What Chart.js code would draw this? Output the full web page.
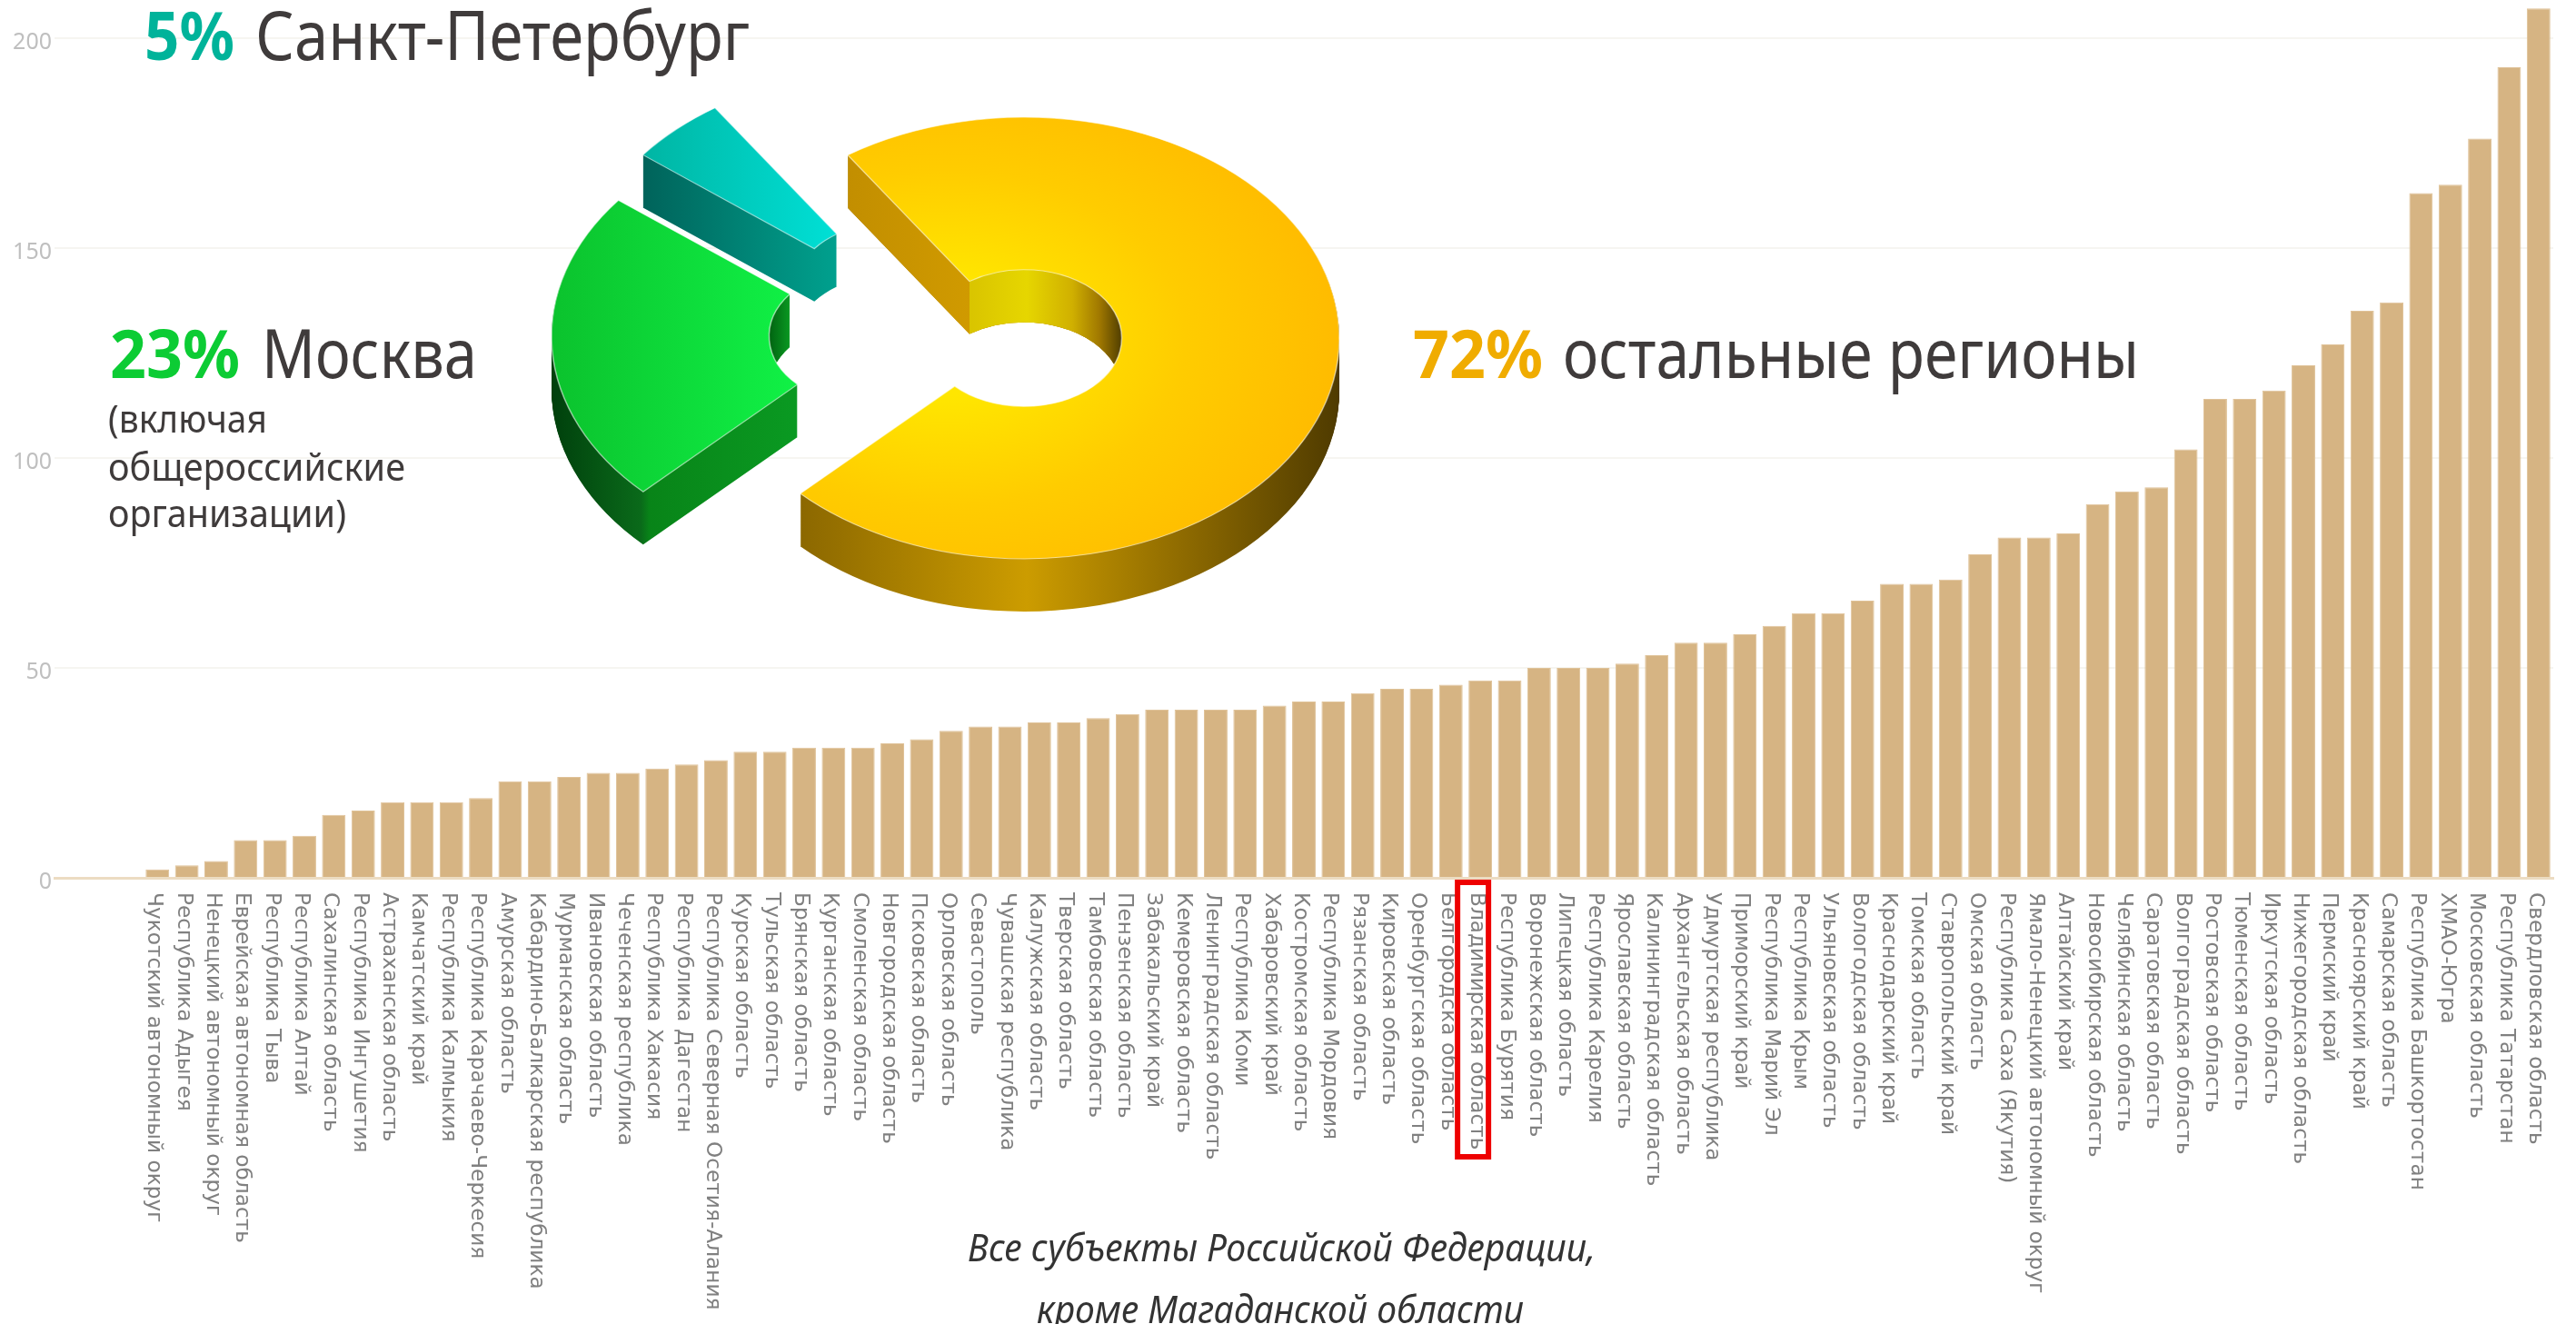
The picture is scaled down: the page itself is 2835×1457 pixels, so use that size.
<!DOCTYPE html>
<html>
<head>
<meta charset="utf-8">
<title>Субъекты РФ</title>
<script src="https://cdn.jsdelivr.net/npm/chart.js@4"></script>
<style>
  html, body { margin: 0; padding: 0; background: #fff; }
  #page { position: relative; width: 2835px; height: 1457px; overflow: hidden; }
  #barCanvas { position: absolute; left: 0; top: 0; }
  #pieCanvas { position: absolute; left: 590px; top: 62px; }
</style>
</head>
<body>
<div id="page">
  <canvas id="barCanvas" width="2835" height="1457"></canvas>
  <canvas id="pieCanvas" width="1074" height="620"></canvas>
</div>
<script>
var blankSlots = ['', '', ''];
var blankValues = [0, 0, 0];

var regions = [
  'Чукотский автономный округ', 'Республика Адыгея', 'Ненецкий автономный округ',
  'Еврейская автономная область', 'Республика Тыва', 'Республика Алтай',
  'Сахалинская область', 'Республика Ингушетия', 'Астраханская область',
  'Камчатский край', 'Республика Калмыкия', 'Республика Карачаево-Черкесия',
  'Амурская область', 'Кабардино-Балкарская республика', 'Мурманская область',
  'Ивановская область', 'Чеченская республика', 'Республика Хакасия',
  'Республика Дагестан', 'Республика Северная Осетия-Алания', 'Курская область',
  'Тульская область', 'Брянская область', 'Курганская область',
  'Смоленская область', 'Новгородская область', 'Псковская область',
  'Орловская область', 'Севастополь', 'Чувашская республика',
  'Калужская область', 'Тверская область', 'Тамбовская область',
  'Пензенская область', 'Забакальский край', 'Кемеровская область',
  'Ленинградская область', 'Республика Коми', 'Хабаровский край',
  'Костромская область', 'Республика Мордовия', 'Рязанская область',
  'Кировская область', 'Оренбургская область', 'Белгородска область',
  'Владимирская область', 'Республика Бурятия', 'Воронежская область',
  'Липецкая область', 'Республика Карелия', 'Ярославская область',
  'Калининградская область', 'Архангельская область', 'Удмуртская республика',
  'Приморский край', 'Республика Марий Эл', 'Республика Крым',
  'Ульяновская область', 'Вологодская область', 'Краснодарский край',
  'Томская область', 'Ставропольский край', 'Омская область',
  'Республика Саха (Якутия)', 'Ямало-Ненецкий автономный округ', 'Алтайский край',
  'Новосибирская область', 'Челябинская область', 'Саратовская область',
  'Волгоградская область', 'Ростовская область', 'Тюменская область',
  'Иркутская область', 'Нижегородская область', 'Пермский край',
  'Красноярский край', 'Самарская область', 'Республика Башкортостан',
  'ХМАО-Югра', 'Московская область', 'Республика Татарстан', 'Свердловская область'
];

var regionValues = [
  2, 3, 4, 9, 9, 10, 15, 16, 18, 18, 18, 19, 23, 23, 24, 25, 25, 26, 27, 28,
  30, 30, 31, 31, 31, 32, 33, 35, 36, 36, 37, 37, 38, 39, 40, 40, 40, 40, 41,
  42, 42, 44, 45, 45, 46, 47, 47, 50, 50, 50, 51, 53, 56, 56, 58, 60, 63, 63,
  66, 70, 70, 71, 77, 81, 81, 82, 89, 92, 93, 102, 114, 114, 116, 122, 127,
  135, 137, 163, 165, 176, 193, 207
];

var highlightRegion = 'Владимирская область';

var shareNames = ['остальные регионы', 'Москва', 'Санкт-Петербург'];
var shareValues = [72, 23, 5];

var captionLines = ['Все субъекты Российской Федерации,', 'кроме Магаданской области'];
var moscowNote = ['(включая', 'общероссийские', 'организации)'];

var textDark = '#3f3b3b';
var baseFont = '"Noto Sans", sans-serif';

// every text piece: x and width come from the picture, width is forced with a horizontal scale
var notes = [
  { text: shareValues[2] + '%', x: 159, y: 66, w: 99, size: 74, weight: 'bold', color: '#00b39a' },
  { text: shareNames[2], x: 281, y: 66, w: 544, size: 74, color: textDark },
  { text: shareValues[1] + '%', x: 121, y: 416, w: 143, size: 74, weight: 'bold', color: '#0ccc34' },
  { text: shareNames[1], x: 288, y: 416, w: 237, size: 74, color: textDark },
  { text: moscowNote[0], x: 119, y: 476, w: 175, size: 42, color: textDark },
  { text: moscowNote[1], x: 119, y: 529, w: 327, size: 42, color: textDark },
  { text: moscowNote[2], x: 119, y: 580, w: 262, size: 42, color: textDark },
  { text: shareValues[0] + '%', x: 1555, y: 416, w: 143, size: 74, weight: 'bold', color: '#f0ac00' },
  { text: shareNames[0], x: 1720, y: 416, w: 634, size: 74, color: textDark },
  { text: captionLines[0], x: 1065, y: 1388, w: 691, size: 42, italic: true, color: '#333333' },
  { text: captionLines[1], x: 1141, y: 1456, w: 536, size: 42, italic: true, color: '#333333' }
];

function drawFitted(ctx, n) {
  ctx.save();
  ctx.font = (n.italic ? 'italic ' : '') + (n.weight || 'normal') + ' ' + n.size + 'px ' + baseFont;
  ctx.fillStyle = n.color;
  ctx.textAlign = 'left';
  ctx.textBaseline = 'alphabetic';
  var measured = ctx.measureText(n.text).width;
  ctx.translate(n.x, n.y);
  ctx.scale(n.w / measured, 1);
  ctx.fillText(n.text, 0, 0);
  ctx.restore();
}

var regionTicks = {
  id: 'regionTicks',
  afterDatasetsDraw: function (chart) {
    var ctx = chart.ctx;
    var x = chart.scales.x;
    var labels = chart.data.labels;
    ctx.save();
    ctx.fillStyle = '#808080';
    ctx.font = '23px "DejaVu Sans", sans-serif';
    ctx.textAlign = 'left';
    ctx.textBaseline = 'middle';
    labels.forEach(function (label, i) {
      if (!label) return;
      var px = x.getPixelForTick(i) - 4;
      ctx.save();
      ctx.translate(px, 982);
      ctx.rotate(Math.PI / 2);
      ctx.scale(1.01, 1);
      ctx.fillText(label, 0, 0);
      ctx.restore();
      if (label === highlightRegion) {
        ctx.strokeStyle = '#ee0000';
        ctx.lineWidth = 6;
        ctx.strokeRect(px - 21, 971, 34, 302);
      }
    });
    ctx.restore();
  },
  afterDraw: function (chart) {
    notes.forEach(function (n) { drawFitted(chart.ctx, n); });
  }
};

new Chart(document.getElementById('barCanvas'), {
  type: 'bar',
  data: {
    labels: blankSlots.concat(regions),
    datasets: [{
      data: blankValues.concat(regionValues),
      backgroundColor: '#d6b483',
      borderColor: '#dfc298',
      borderWidth: 1,
      barPercentage: 0.8,
      categoryPercentage: 1
    }]
  },
  options: {
    responsive: false,
    animation: false,
    layout: { padding: { left: 0, right: 25, top: 0, bottom: 491 } },
    plugins: { legend: { display: false }, tooltip: { enabled: false } },
    scales: {
      x: {
        afterFit: function (axis) {
          axis.height = 0;
          axis.paddingLeft = 0;
          axis.paddingRight = 0;
        },
        grid: { display: false },
        border: { color: '#ecdcc2', width: 3 },
        ticks: { display: false, autoSkip: false }
      },
      y: {
        min: 0,
        max: 209,
        afterFit: function (axis) {
          axis.width = 60;
          axis.paddingTop = 0;
          axis.paddingBottom = 0;
        },
        grid: { color: '#f6f5f1', lineWidth: 2, drawTicks: false },
        border: { display: false },
        ticks: {
          stepSize: 50,
          includeBounds: false,
          padding: 3,
          labelOffset: 5,
          color: '#bfbfbf',
          font: { family: baseFont, size: 25 }
        }
      }
    }
  },
  plugins: [regionTicks]
});

// 3D look for the doughnut: squash it and stack the library's arcs downwards
var pieLeft = 590;
var pieMidY = 310;
var pieTilt = 0.7;
var pieDepth = 58;
var sliceShiftX = [0, -173, -146];
var sliceShiftY = [0, -2, -52];
var sliceOrder = [0, 2, 1];

var sliceTop = [
  { radial: [1040, 90, 440], stops: [[0, '#ffe600'], [0.5, '#ffcc00'], [1, '#ffbb00']] },
  { xStops: [[605, '#0bc22d'], [870, '#10f045']] },
  { xStops: [[708, '#00b5a3'], [920, '#00e0d6']] }
];
var sliceSide = [
  [[883, '#8c6800'], [1130, '#cc9c00'], [1300, '#8f6b00'], [1475, '#4e3a00']],
  [[605, '#003f0c'], [705, '#0a6a1a'], [715, '#088418'], [879, '#0a9a22']],
  [[708, '#00635a'], [896, '#009a88'], [920, '#00a08e']]
];
// yellow cut face above the hole is brighter than the outer wall under the same x
var sliceCutFace = [
  [[883, '#bd8a00'], [1067, '#d09a00'], [1130, '#cc9c00'], [1300, '#8f6b00'], [1475, '#4e3a00']],
  null,
  null
];
var sliceWall = [
  [[1067, '#d9c400'], [1130, '#e6d600'], [1180, '#d0b000'], [1210, '#a07800'], [1235, '#4f3d00']],
  [[845, '#006010'], [870, '#0a9a22']],
  null
];
var wallFromX = [1067, 0, 0];

function xGradient(ctx, stops, shiftX) {
  var g = ctx.createLinearGradient(stops[0][0] - pieLeft - shiftX, 0, stops[stops.length - 1][0] - pieLeft - shiftX, 0);
  var from = stops[0][0], span = stops[stops.length - 1][0] - from;
  stops.forEach(function (s) { g.addColorStop((s[0] - from) / span, s[1]); });
  return g;
}

function topGradient(ctx, spec, shiftX) {
  if (spec.xStops) return xGradient(ctx, spec.xStops, shiftX);
  var r = spec.radial;
  var g = ctx.createRadialGradient(r[0] - pieLeft - shiftX, pieMidY, r[1], r[0] - pieLeft - shiftX, pieMidY, r[2]);
  spec.stops.forEach(function (s) { g.addColorStop(s[0], s[1]); });
  return g;
}

function drawArcAt(ctx, arc, depth, shiftX, shiftY, style) {
  var base = arc.options;
  arc.options = Object.assign({}, base, style);
  ctx.save();
  ctx.translate(shiftX + arc.x, shiftY + depth + arc.y);
  ctx.scale(1, pieTilt);
  ctx.translate(-arc.x, -arc.y);
  arc.draw(ctx);
  ctx.restore();
  arc.options = base;
}

function extrude(ctx, arc, sx, sy, fill) {
  for (var d = pieDepth; d > 0; d--) {
    drawArcAt(ctx, arc, d, sx, sy, { backgroundColor: fill, borderWidth: 0 });
  }
}

var tiltedDoughnut = {
  id: 'tiltedDoughnut',
  beforeDatasetsDraw: function (chart) {
    var ctx = chart.ctx;
    var arcs = chart.getDatasetMeta(0).data;
    sliceOrder.forEach(function (i) {
      var arc = arcs[i];
      var sx = sliceShiftX[i], sy = sliceShiftY[i];
      extrude(ctx, arc, sx, sy, xGradient(ctx, sliceSide[i], sx));
      if (sliceCutFace[i]) {
        ctx.save();
        ctx.beginPath();
        ctx.rect(0, 0, chart.width, arc.y + sy + pieDepth);
        ctx.clip();
        extrude(ctx, arc, sx, sy, xGradient(ctx, sliceCutFace[i], sx));
        ctx.restore();
      }
      if (sliceWall[i]) {
        var outer = arc.outerRadius;
        arc.outerRadius = arc.innerRadius * 1.6;
        ctx.save();
        ctx.beginPath();
        ctx.rect(wallFromX[i] - pieLeft, 0, chart.width, chart.height);
        ctx.clip();
        ctx.beginPath();
        ctx.ellipse(arc.x + sx, arc.y + sy, arc.innerRadius, arc.innerRadius * pieTilt, 0, 0, Math.PI * 2);
        ctx.clip();
        extrude(ctx, arc, sx, sy, xGradient(ctx, sliceWall[i], sx));
        ctx.restore();
        arc.outerRadius = outer;
      }
      drawArcAt(ctx, arc, 0, sx, sy, {
        backgroundColor: topGradient(ctx, sliceTop[i], sx),
        borderWidth: 1.5,
        borderColor: 'rgba(255,255,255,0.55)',
        borderAlign: 'center',
        borderJoinStyle: 'miter'
      });
    });
    return false;
  }
};

new Chart(document.getElementById('pieCanvas'), {
  type: 'doughnut',
  data: {
    labels: shareNames,
    datasets: [{ data: shareValues, backgroundColor: '#ffcc00', borderWidth: 0 }]
  },
  options: {
    responsive: false,
    animation: false,
    rotation: -34,
    cutout: '31%',
    radius: 347,
    layout: { padding: 0 },
    plugins: { legend: { display: false }, tooltip: { enabled: false } }
  },
  plugins: [tiltedDoughnut]
});
</script>
</body>
</html>
